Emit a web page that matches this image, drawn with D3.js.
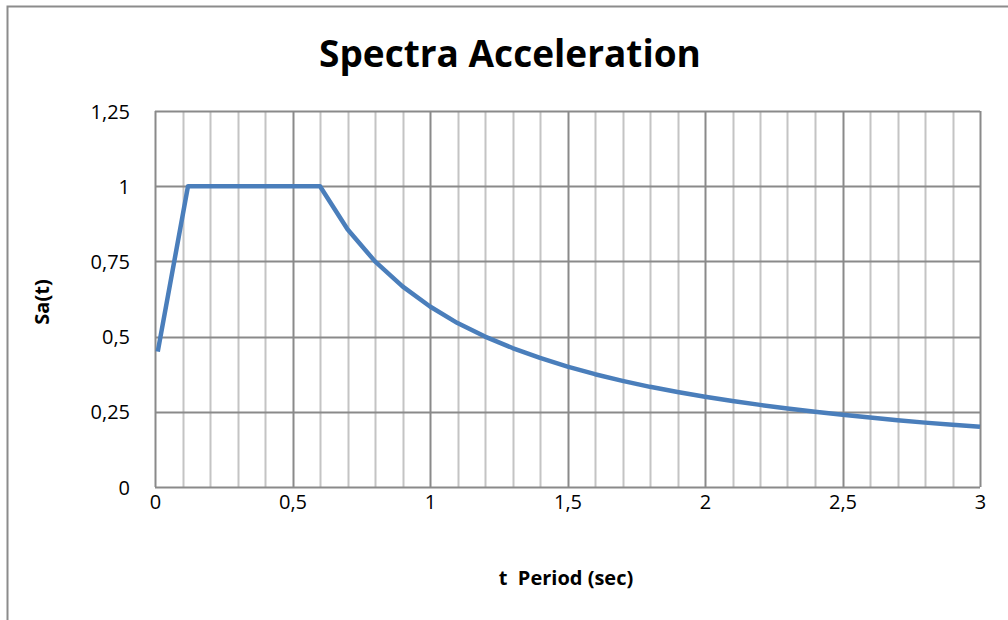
<!DOCTYPE html>
<html>
<head>
<meta charset="utf-8">
<script src="https://cdn.jsdelivr.net/npm/d3@7"></script>
<style>
  body { margin: 0; background: #fff; }
  text { font-family: "Open Sans", "DejaVu Sans", sans-serif; fill: #000; }
</style>
</head>
<body>
<svg id="chart" width="1008" height="620"></svg>
<script>
// period (sec) and spectral acceleration
var periods = [0.01, 0.12, 0.2, 0.3, 0.4, 0.5, 0.6, 0.7, 0.8, 0.9, 1.0,
	1.1, 1.2, 1.3, 1.4, 1.5, 1.6, 1.7, 1.8, 1.9, 2.0,
	2.1, 2.2, 2.3, 2.4, 2.5, 2.6, 2.7, 2.8, 2.9, 3.0];
var sa = [0.45, 1.0, 1.0, 1.0, 1.0, 1.0, 1.0, 0.857, 0.75, 0.667, 0.6,
	0.545, 0.5, 0.462, 0.429, 0.4, 0.375, 0.353, 0.333, 0.316, 0.3,
	0.286, 0.273, 0.261, 0.25, 0.24, 0.231, 0.222, 0.214, 0.207, 0.2];
var xTicks = [0, 0.5, 1, 1.5, 2, 2.5, 3];
var xMinor = [0.1, 0.2, 0.3, 0.4, 0.6, 0.7, 0.8, 0.9, 1.1, 1.2, 1.3, 1.4,
	1.6, 1.7, 1.8, 1.9, 2.1, 2.2, 2.3, 2.4, 2.6, 2.7, 2.8, 2.9];
var yTicks = [0, 0.25, 0.5, 0.75, 1, 1.25];

var svg = d3.select("#chart");
var plotLeft = 155, plotRight = 980, plotTop = 111, plotBottom = 487;

var x = d3.scaleLinear().domain([0, 3]).range([plotLeft, plotRight]);
var y = d3.scaleLinear().domain([0, 1.25]).range([plotBottom, plotTop]);
var fmt = function(d) { return String(d).replace(".", ","); };

// outer chart frame (clipped at right and bottom)
svg.append("path")
	.attr("d", "M7.5,620 L7.5,6.5 L1008,6.5")
	.attr("fill", "none")
	.attr("stroke", "#8c8c8c")
	.attr("stroke-width", 2);

// minor vertical gridlines
svg.append("g").selectAll("line")
	.data(xMinor).enter().append("line")
	.attr("x1", function(d) { return Math.round(x(d)) + 0.5; })
	.attr("x2", function(d) { return Math.round(x(d)) + 0.5; })
	.attr("y1", plotTop).attr("y2", plotBottom)
	.attr("stroke", "#c4c4c4")
	.attr("stroke-width", 2);

// major gridlines
svg.append("g").selectAll("line")
	.data(xTicks).enter().append("line")
	.attr("x1", function(d) { return Math.round(x(d)) + 0.5; })
	.attr("x2", function(d) { return Math.round(x(d)) + 0.5; })
	.attr("y1", plotTop).attr("y2", plotBottom)
	.attr("stroke", "#8a8a8a")
	.attr("stroke-width", 2);

svg.append("g").selectAll("line")
	.data(yTicks).enter().append("line")
	.attr("x1", plotLeft).attr("x2", plotRight)
	.attr("y1", function(d) { return Math.round(y(d)) + 0.5; })
	.attr("y2", function(d) { return Math.round(y(d)) + 0.5; })
	.attr("stroke", "#8a8a8a")
	.attr("stroke-width", 2);

// tick labels
var xAxis = d3.axisBottom(x).tickValues(xTicks).tickFormat(fmt).tickSize(0).tickPadding(0);
var gx = svg.append("g").attr("transform", "translate(0," + 509 + ")").call(xAxis);
gx.select(".domain").remove();
gx.selectAll("text").attr("dy", 0).attr("font-size", 20)
	.style("font-family", "'Open Sans', sans-serif");

var yAxis = d3.axisLeft(y).tickValues(yTicks).tickFormat(fmt).tickSize(0).tickPadding(0);
var gy = svg.append("g").attr("transform", "translate(130,0)").call(yAxis);
gy.select(".domain").remove();
gy.selectAll("text").attr("dy", "0.35em").attr("font-size", 20)
	.style("font-family", "'Open Sans', sans-serif");

// data line
var line = d3.line()
	.x(function(d, i) { return x(periods[i]); })
	.y(function(d) { return y(d); });

svg.append("path")
	.datum(sa)
	.attr("d", line)
	.attr("fill", "none")
	.attr("stroke", "#4a7ebb")
	.attr("stroke-width", 4.5)
	.attr("stroke-linejoin", "round");

// titles
svg.append("text")
	.attr("x", 510).attr("y", 67)
	.attr("text-anchor", "middle")
	.attr("font-size", 37)
	.attr("font-weight", "bold")
	.text("Spectra Acceleration");

svg.append("text")
	.attr("transform", "translate(49,302) rotate(-90)")
	.attr("text-anchor", "middle")
	.attr("font-size", 20)
	.attr("font-weight", "bold")
	.text("Sa(t)");

svg.append("text")
	.attr("x", 566).attr("y", 585)
	.attr("text-anchor", "middle")
	.attr("font-size", 20)
	.attr("font-weight", "bold")
	.attr("xml:space", "preserve")
	.style("white-space", "pre")
	.text("t  Period (sec)");
</script>
</body>
</html>
